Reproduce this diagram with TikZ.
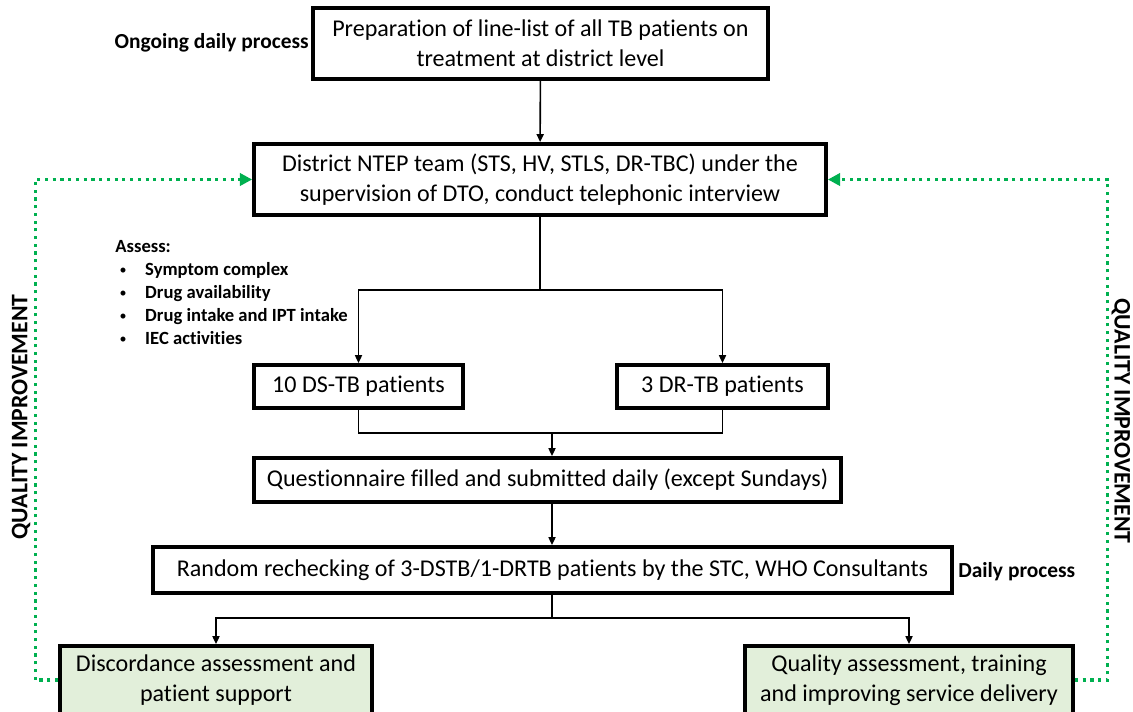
\documentclass[tikz,border=0pt]{standalone}
\usepackage{fontspec}
\setmainfont[Ligatures=CommonOff]{Carlito}
\usetikzlibrary{arrows.meta}

\definecolor{qigreen}{HTML}{00B050}
\definecolor{boxgreen}{HTML}{E2EFDA}

\newcommand{\bulletitem}[1]{\makebox[17pt][l]{\hspace{2.5pt}\raisebox{0.6pt}{\fontsize{8}{8}\selectfont\mdseries\textbullet}}#1}

\tikzset{
  flowbox/.style={draw, line width=2.2pt, inner sep=0pt, align=center, font=\fontsize{13.7}{17}\selectfont},
  greenbox/.style={flowbox, fill=boxgreen},
  sidelabel/.style={inner sep=0pt, font=\fontsize{12.2}{14}\selectfont\bfseries},
  listlabel/.style={inner sep=0pt, align=left, font=\fontsize{10.6}{13.1}\selectfont\bfseries},
  qilabel/.style={inner sep=0pt, font=\fontsize{13.5}{16}\selectfont\bfseries},
  flowline/.style={line width=0.9pt, -{Triangle[length=4.5pt,width=4pt]}},
  joinline/.style={line width=0.9pt},
  quality/.style={qigreen, line width=1.8pt, dash pattern=on 1.8pt off 2.6pt, -{Triangle[length=7pt,width=7pt]}}
}

\begin{document}
\begin{tikzpicture}[x=0.02cm, y=-0.02cm]
  \useasboundingbox (0,0) rectangle (1133,711);

  % Draw the main boxes
  \node[flowbox, minimum width=9.1cm, minimum height=1.42cm] (prep) at (540.5,43.5) {Preparation of line-list of all TB patients on\\treatment at district level};
  \node[flowbox, minimum width=11.44cm, minimum height=1.42cm] (team) at (540,179.5) {District NTEP team (STS, HV, STLS, DR-TBC) under the\\supervision of DTO, conduct telephonic interview};
  \node[flowbox, minimum width=4.18cm, minimum height=0.86cm] (ds) at (358.5,386.5) {10 DS-TB patients};
  \node[flowbox, minimum width=4.22cm, minimum height=0.86cm] (dr) at (722.5,386.5) {3 DR-TB patients};
  \node[flowbox, minimum width=11.74cm, minimum height=0.88cm] (quest) at (547.5,480) {Questionnaire filled and submitted daily (except Sundays)};
  \node[flowbox, minimum width=15.98cm, minimum height=0.92cm] (rand) at (552.5,570) {Random rechecking of 3-DSTB/1-DRTB patients by the STC, WHO Consultants};
  \node[greenbox, minimum width=6.24cm, minimum height=1.36cm] (disc) at (216,680) {Discordance assessment and\\patient support};
  \node[greenbox, minimum width=6.56cm, minimum height=1.36cm] (qual) at (909,680) {Quality assessment, training\\and improving service delivery};

  % Side texts
  \node[sidelabel, anchor=east] (ongoing) at (309,43) {Ongoing daily process};
  \node[sidelabel, anchor=west] (daily) at (958,572) {Daily process};
  \node[listlabel, anchor=north west] (assess) at (115,240) {Assess:\\\bulletitem{Symptom complex}\\\bulletitem{Drug availability}\\\bulletitem{Drug intake and IPT intake}\\\bulletitem{IEC activities}};
  \node[qilabel, rotate=90] (qileft) at (21,417) {QUALITY IMPROVEMENT};
  \node[qilabel, rotate=-90] (qiright) at (1121,421) {QUALITY IMPROVEMENT};

  % Connectors
  \coordinate (split) at (540,290);
  \coordinate (merge) at (552,433);
  \coordinate (fork) at (552,618);
  \draw[flowline] (prep) -- (team);
  \draw[joinline] (team.south) -- (split);
  \draw[flowline] (split) -| (ds.north);
  \draw[flowline] (split) -| (dr.north);
  \draw[joinline] (ds.south) |- (merge);
  \draw[joinline] (dr.south) |- (merge);
  \draw[flowline] (merge) -- (merge |- quest.north);
  \draw[flowline] (quest.south -| merge) -- (merge |- rand.north);
  \draw[joinline] (rand.south -| fork) -- (fork);
  \draw[flowline] (fork) -| (disc.north);
  \draw[flowline] (fork) -| (qual.north);

  % Quality improvement loops
  \draw[quality] (disc.west) -- ++(-23,0) |- (team.west);
  \draw[quality] (qual.east) -- ++(33,0) |- (team.east);
\end{tikzpicture}
\end{document}
